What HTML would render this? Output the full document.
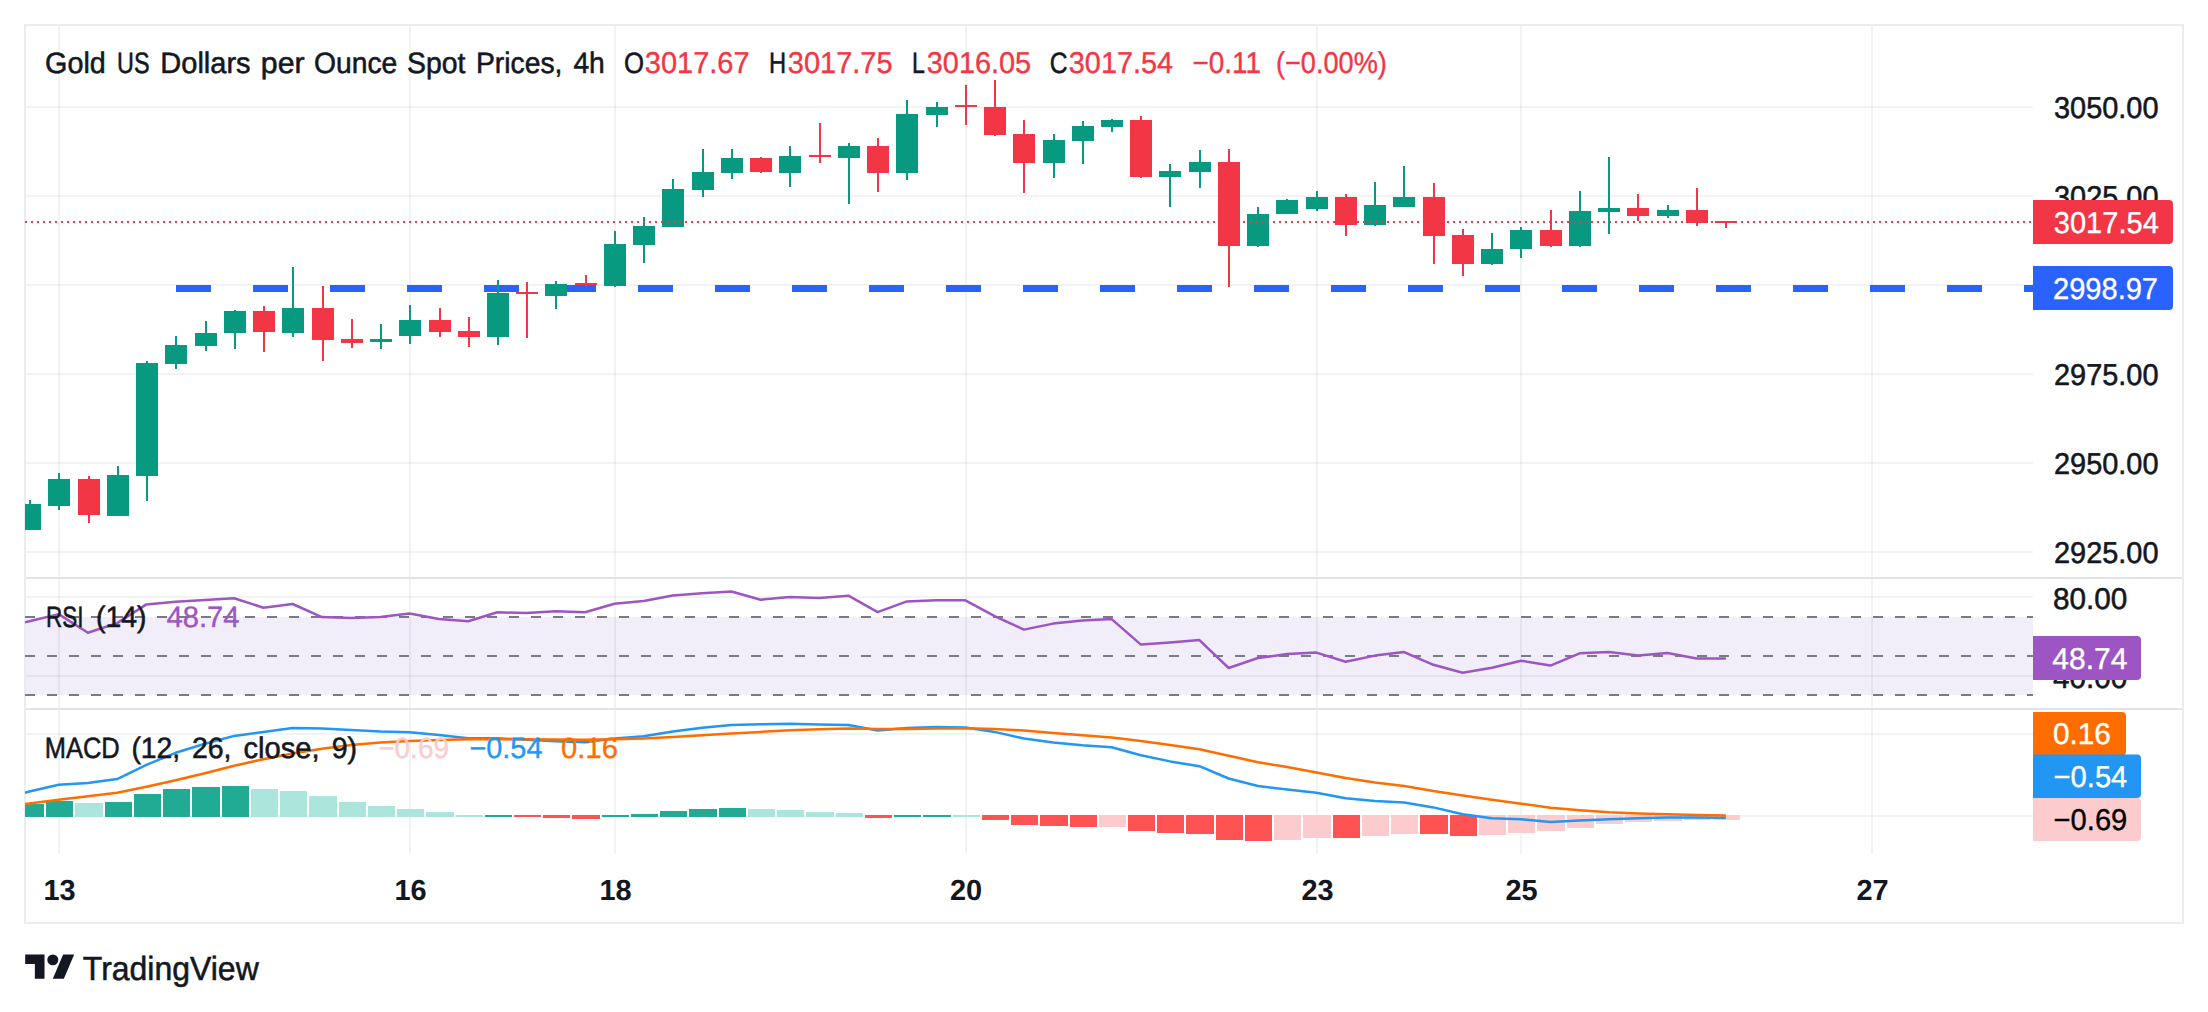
<!DOCTYPE html>
<html lang="en"><head><meta charset="utf-8"><title>Gold US Dollars per Ounce Spot Prices, 4h</title>
<style>html,body{margin:0;padding:0;background:#fff;}body{width:2208px;height:1012px;overflow:hidden;}svg{display:block;font-family:"Liberation Sans",Arial,sans-serif;}text{white-space:pre;}</style></head><body>
<svg width="2208" height="1012" viewBox="0 0 2208 1012" shape-rendering="crispEdges" text-rendering="geometricPrecision">
<rect width="2208" height="1012" fill="#fff"/>
<rect x="25" y="617" width="2008" height="78" fill="#f1eef9"/>
<g fill="rgba(42,46,57,0.06)">
<rect x="58" y="26" width="2" height="828"/>
<rect x="409" y="26" width="2" height="828"/>
<rect x="614" y="26" width="2" height="828"/>
<rect x="965" y="26" width="2" height="828"/>
<rect x="1316" y="26" width="2" height="828"/>
<rect x="1520" y="26" width="2" height="828"/>
<rect x="1871" y="26" width="2" height="828"/>
<rect x="26" y="106" width="2007" height="2"/>
<rect x="26" y="195" width="2007" height="2"/>
<rect x="26" y="284" width="2007" height="2"/>
<rect x="26" y="373" width="2007" height="2"/>
<rect x="26" y="462" width="2007" height="2"/>
<rect x="26" y="551" width="2007" height="2"/>
<rect x="26" y="596" width="2007" height="2"/>
<rect x="26" y="675" width="2007" height="2"/>
<rect x="26" y="733" width="2007" height="2"/>
<rect x="26" y="815" width="2007" height="2"/>
</g>
<rect x="26" y="577" width="2156" height="2" fill="#e0e3eb"/>
<rect x="26" y="708" width="2156" height="2" fill="#e0e3eb"/>
<rect x="25" y="25" width="2158" height="898" fill="none" stroke="#ebecf1" stroke-width="2"/>
<g fill="#2962ff">
<rect x="176" y="285" width="35" height="7"/>
<rect x="253" y="285" width="35" height="7"/>
<rect x="330" y="285" width="35" height="7"/>
<rect x="407" y="285" width="35" height="7"/>
<rect x="484" y="285" width="35" height="7"/>
<rect x="561" y="285" width="35" height="7"/>
<rect x="638" y="285" width="35" height="7"/>
<rect x="715" y="285" width="35" height="7"/>
<rect x="792" y="285" width="35" height="7"/>
<rect x="869" y="285" width="35" height="7"/>
<rect x="946" y="285" width="35" height="7"/>
<rect x="1023" y="285" width="35" height="7"/>
<rect x="1100" y="285" width="35" height="7"/>
<rect x="1177" y="285" width="35" height="7"/>
<rect x="1254" y="285" width="35" height="7"/>
<rect x="1331" y="285" width="35" height="7"/>
<rect x="1408" y="285" width="35" height="7"/>
<rect x="1485" y="285" width="35" height="7"/>
<rect x="1562" y="285" width="35" height="7"/>
<rect x="1639" y="285" width="35" height="7"/>
<rect x="1716" y="285" width="35" height="7"/>
<rect x="1793" y="285" width="35" height="7"/>
<rect x="1870" y="285" width="35" height="7"/>
<rect x="1947" y="285" width="35" height="7"/>
<rect x="2024" y="285" width="9" height="7"/>
</g>
<g>
<rect x="29" y="500" width="2" height="30" fill="#089981"/><rect x="25" y="504" width="16" height="26" fill="#089981"/>
<rect x="58" y="473" width="2" height="37" fill="#089981"/><rect x="48" y="479" width="22" height="27" fill="#089981"/>
<rect x="88" y="476" width="2" height="47" fill="#f23645"/><rect x="78" y="479" width="22" height="36" fill="#f23645"/>
<rect x="117" y="466" width="2" height="50" fill="#089981"/><rect x="107" y="475" width="22" height="41" fill="#089981"/>
<rect x="146" y="361" width="2" height="140" fill="#089981"/><rect x="136" y="363" width="22" height="113" fill="#089981"/>
<rect x="175" y="336" width="2" height="33" fill="#089981"/><rect x="165" y="345" width="22" height="19" fill="#089981"/>
<rect x="205" y="321" width="2" height="30" fill="#089981"/><rect x="195" y="333" width="22" height="13" fill="#089981"/>
<rect x="234" y="310" width="2" height="39" fill="#089981"/><rect x="224" y="311" width="22" height="22" fill="#089981"/>
<rect x="263" y="306" width="2" height="46" fill="#f23645"/><rect x="253" y="311" width="22" height="21" fill="#f23645"/>
<rect x="292" y="267" width="2" height="70" fill="#089981"/><rect x="282" y="308" width="22" height="25" fill="#089981"/>
<rect x="322" y="286" width="2" height="75" fill="#f23645"/><rect x="312" y="308" width="22" height="32" fill="#f23645"/>
<rect x="351" y="319" width="2" height="29" fill="#f23645"/><rect x="341" y="339" width="22" height="4" fill="#f23645"/>
<rect x="380" y="324" width="2" height="25" fill="#089981"/><rect x="370" y="339" width="22" height="3" fill="#089981"/>
<rect x="409" y="305" width="2" height="39" fill="#089981"/><rect x="399" y="320" width="22" height="16" fill="#089981"/>
<rect x="439" y="308" width="2" height="29" fill="#f23645"/><rect x="429" y="320" width="22" height="12" fill="#f23645"/>
<rect x="468" y="317" width="2" height="30" fill="#f23645"/><rect x="458" y="331" width="22" height="6" fill="#f23645"/>
<rect x="497" y="280" width="2" height="65" fill="#089981"/><rect x="487" y="293" width="22" height="44" fill="#089981"/>
<rect x="526" y="282" width="2" height="56" fill="#f23645"/><rect x="516" y="292" width="22" height="2" fill="#f23645"/>
<rect x="555" y="281" width="2" height="28" fill="#089981"/><rect x="545" y="284" width="22" height="12" fill="#089981"/>
<rect x="585" y="275" width="2" height="11" fill="#f23645"/><rect x="575" y="283" width="22" height="2" fill="#f23645"/>
<rect x="614" y="231" width="2" height="56" fill="#089981"/><rect x="604" y="244" width="22" height="42" fill="#089981"/>
<rect x="643" y="217" width="2" height="46" fill="#089981"/><rect x="633" y="226" width="22" height="19" fill="#089981"/>
<rect x="672" y="179" width="2" height="48" fill="#089981"/><rect x="662" y="189" width="22" height="38" fill="#089981"/>
<rect x="702" y="149" width="2" height="48" fill="#089981"/><rect x="692" y="172" width="22" height="18" fill="#089981"/>
<rect x="731" y="149" width="2" height="30" fill="#089981"/><rect x="721" y="158" width="22" height="15" fill="#089981"/>
<rect x="760" y="157" width="2" height="16" fill="#f23645"/><rect x="750" y="158" width="22" height="14" fill="#f23645"/>
<rect x="789" y="146" width="2" height="41" fill="#089981"/><rect x="779" y="156" width="22" height="17" fill="#089981"/>
<rect x="819" y="123" width="2" height="40" fill="#f23645"/><rect x="809" y="155" width="22" height="2" fill="#f23645"/>
<rect x="848" y="143" width="2" height="61" fill="#089981"/><rect x="838" y="146" width="22" height="12" fill="#089981"/>
<rect x="877" y="138" width="2" height="54" fill="#f23645"/><rect x="867" y="146" width="22" height="27" fill="#f23645"/>
<rect x="906" y="100" width="2" height="80" fill="#089981"/><rect x="896" y="114" width="22" height="59" fill="#089981"/>
<rect x="936" y="102" width="2" height="25" fill="#089981"/><rect x="926" y="107" width="22" height="8" fill="#089981"/>
<rect x="965" y="85" width="2" height="40" fill="#f23645"/><rect x="955" y="105" width="22" height="2" fill="#f23645"/>
<rect x="994" y="80" width="2" height="56" fill="#f23645"/><rect x="984" y="107" width="22" height="28" fill="#f23645"/>
<rect x="1023" y="120" width="2" height="73" fill="#f23645"/><rect x="1013" y="134" width="22" height="29" fill="#f23645"/>
<rect x="1053" y="134" width="2" height="44" fill="#089981"/><rect x="1043" y="140" width="22" height="23" fill="#089981"/>
<rect x="1082" y="121" width="2" height="43" fill="#089981"/><rect x="1072" y="126" width="22" height="15" fill="#089981"/>
<rect x="1111" y="119" width="2" height="13" fill="#089981"/><rect x="1101" y="120" width="22" height="7" fill="#089981"/>
<rect x="1140" y="116" width="2" height="62" fill="#f23645"/><rect x="1130" y="120" width="22" height="57" fill="#f23645"/>
<rect x="1169" y="164" width="2" height="43" fill="#089981"/><rect x="1159" y="171" width="22" height="6" fill="#089981"/>
<rect x="1199" y="150" width="2" height="38" fill="#089981"/><rect x="1189" y="162" width="22" height="10" fill="#089981"/>
<rect x="1228" y="149" width="2" height="138" fill="#f23645"/><rect x="1218" y="162" width="22" height="84" fill="#f23645"/>
<rect x="1257" y="207" width="2" height="40" fill="#089981"/><rect x="1247" y="214" width="22" height="32" fill="#089981"/>
<rect x="1286" y="199" width="2" height="15" fill="#089981"/><rect x="1276" y="200" width="22" height="14" fill="#089981"/>
<rect x="1316" y="191" width="2" height="20" fill="#089981"/><rect x="1306" y="197" width="22" height="12" fill="#089981"/>
<rect x="1345" y="194" width="2" height="42" fill="#f23645"/><rect x="1335" y="197" width="22" height="28" fill="#f23645"/>
<rect x="1374" y="182" width="2" height="44" fill="#089981"/><rect x="1364" y="205" width="22" height="20" fill="#089981"/>
<rect x="1403" y="166" width="2" height="41" fill="#089981"/><rect x="1393" y="197" width="22" height="10" fill="#089981"/>
<rect x="1433" y="183" width="2" height="81" fill="#f23645"/><rect x="1423" y="197" width="22" height="39" fill="#f23645"/>
<rect x="1462" y="229" width="2" height="47" fill="#f23645"/><rect x="1452" y="235" width="22" height="29" fill="#f23645"/>
<rect x="1491" y="233" width="2" height="32" fill="#089981"/><rect x="1481" y="249" width="22" height="15" fill="#089981"/>
<rect x="1520" y="227" width="2" height="31" fill="#089981"/><rect x="1510" y="230" width="22" height="19" fill="#089981"/>
<rect x="1550" y="210" width="2" height="37" fill="#f23645"/><rect x="1540" y="230" width="22" height="16" fill="#f23645"/>
<rect x="1579" y="191" width="2" height="56" fill="#089981"/><rect x="1569" y="211" width="22" height="35" fill="#089981"/>
<rect x="1608" y="157" width="2" height="77" fill="#089981"/><rect x="1598" y="208" width="22" height="4" fill="#089981"/>
<rect x="1637" y="194" width="2" height="27" fill="#f23645"/><rect x="1627" y="208" width="22" height="8" fill="#f23645"/>
<rect x="1667" y="205" width="2" height="13" fill="#089981"/><rect x="1657" y="210" width="22" height="6" fill="#089981"/>
<rect x="1696" y="188" width="2" height="38" fill="#f23645"/><rect x="1686" y="210" width="22" height="13" fill="#f23645"/>
<rect x="1725" y="221" width="2" height="7" fill="#f23645"/><rect x="1715" y="221" width="22" height="2" fill="#f23645"/>
</g>
<line x1="25" y1="222" x2="2033" y2="222" stroke="#f23645" stroke-width="2" stroke-dasharray="2 4"/>
<line x1="25" y1="617" x2="2033" y2="617" stroke="#787b86" stroke-width="2" stroke-dasharray="10 12"/>
<line x1="25" y1="656" x2="2033" y2="656" stroke="#787b86" stroke-width="2" stroke-dasharray="10 12"/>
<line x1="25" y1="695" x2="2033" y2="695" stroke="#787b86" stroke-width="2" stroke-dasharray="10 12"/>
<polyline shape-rendering="geometricPrecision" fill="none" stroke="#9c55c3" stroke-width="2.5" stroke-linejoin="round" points="25,622.4 29.4,621.2 58.65,614.1 87.9,632.8 117.15,623.1 146.4,604.4 175.65,601.7 204.9,600 234.15,598.2 263.4,607.7 292.65,604 321.9,617.1 351.15,617.9 380.4,617.1 409.65,613.4 438.9,619.1 468.15,621.3 497.4,612.3 526.65,613.1 555.9,611.2 585.15,612.2 614.4,603.7 643.65,601 672.9,595.4 702.15,593.2 731.4,591.5 760.65,599.7 789.9,596.9 819.15,597.9 848.4,595.7 877.65,612.1 906.9,601.4 936.15,600.2 965.4,600.3 994.65,616.2 1023.9,629.6 1053.15,623.6 1082.4,620.6 1111.65,619.1 1140.9,644.6 1170.15,642.6 1199.4,640.1 1228.65,668 1257.9,658 1287.15,654.1 1316.4,652.6 1345.65,661.8 1374.9,655.6 1404.15,652.1 1433.4,664.8 1462.65,672.8 1491.9,667.8 1521.15,660.7 1550.4,665.6 1579.65,653.3 1608.9,652.1 1638.15,655.6 1667.4,652.9 1696.65,658.4 1725.9,658.6"/>
<g>
<rect x="25" y="804.2" width="19" height="12.8" fill="#22ab94"/>
<rect x="46" y="801.3" width="27" height="15.7" fill="#22ab94"/>
<rect x="75" y="803.0" width="28" height="14.0" fill="#ace5dc"/>
<rect x="105" y="802.0" width="27" height="15.0" fill="#22ab94"/>
<rect x="134" y="794.1" width="27" height="22.9" fill="#22ab94"/>
<rect x="163" y="789.1" width="27" height="27.9" fill="#22ab94"/>
<rect x="192" y="786.9" width="28" height="30.1" fill="#22ab94"/>
<rect x="222" y="785.9" width="27" height="31.1" fill="#22ab94"/>
<rect x="251" y="789.1" width="27" height="27.9" fill="#ace5dc"/>
<rect x="280" y="791.1" width="27" height="25.9" fill="#ace5dc"/>
<rect x="309" y="796.1" width="28" height="20.9" fill="#ace5dc"/>
<rect x="339" y="802.0" width="27" height="15.0" fill="#ace5dc"/>
<rect x="368" y="806.0" width="27" height="11.0" fill="#ace5dc"/>
<rect x="397" y="809.0" width="27" height="8.0" fill="#ace5dc"/>
<rect x="426" y="812.2" width="28" height="4.8" fill="#ace5dc"/>
<rect x="456" y="814.6" width="27" height="2.4" fill="#ace5dc"/>
<rect x="485" y="815.0" width="27" height="2.0" fill="#22ab94"/>
<rect x="514" y="815.0" width="27" height="2.0" fill="#ff5252"/>
<rect x="543" y="815.0" width="27" height="2.6" fill="#ff5252"/>
<rect x="572" y="815.0" width="28" height="3.8" fill="#ff5252"/>
<rect x="602" y="815.0" width="27" height="2.0" fill="#22ab94"/>
<rect x="631" y="814.0" width="27" height="3.0" fill="#22ab94"/>
<rect x="660" y="811.0" width="27" height="6.0" fill="#22ab94"/>
<rect x="689" y="809.0" width="28" height="8.0" fill="#22ab94"/>
<rect x="719" y="808.0" width="27" height="9.0" fill="#22ab94"/>
<rect x="748" y="809.0" width="27" height="8.0" fill="#ace5dc"/>
<rect x="777" y="810.0" width="27" height="7.0" fill="#ace5dc"/>
<rect x="806" y="812.2" width="28" height="4.8" fill="#ace5dc"/>
<rect x="836" y="813.2" width="27" height="3.8" fill="#ace5dc"/>
<rect x="865" y="815.0" width="27" height="2.8" fill="#ff5252"/>
<rect x="894" y="815.0" width="27" height="2.0" fill="#22ab94"/>
<rect x="923" y="815.0" width="28" height="2.0" fill="#22ab94"/>
<rect x="953" y="815.0" width="27" height="2.0" fill="#ace5dc"/>
<rect x="982" y="815.0" width="27" height="5.0" fill="#ff5252"/>
<rect x="1011" y="815.0" width="27" height="10.0" fill="#ff5252"/>
<rect x="1040" y="815.0" width="28" height="11.0" fill="#ff5252"/>
<rect x="1070" y="815.0" width="27" height="12.0" fill="#ff5252"/>
<rect x="1099" y="815.0" width="27" height="11.8" fill="#fccbcd"/>
<rect x="1128" y="815.0" width="27" height="16.0" fill="#ff5252"/>
<rect x="1157" y="815.0" width="27" height="18.0" fill="#ff5252"/>
<rect x="1186" y="815.0" width="28" height="19.0" fill="#ff5252"/>
<rect x="1216" y="815.0" width="27" height="25.1" fill="#ff5252"/>
<rect x="1245" y="815.0" width="27" height="26.1" fill="#ff5252"/>
<rect x="1274" y="815.0" width="27" height="24.8" fill="#fccbcd"/>
<rect x="1303" y="815.0" width="28" height="22.6" fill="#fccbcd"/>
<rect x="1333" y="815.0" width="27" height="23.0" fill="#ff5252"/>
<rect x="1362" y="815.0" width="27" height="20.7" fill="#fccbcd"/>
<rect x="1391" y="815.0" width="27" height="18.7" fill="#fccbcd"/>
<rect x="1420" y="815.0" width="28" height="19.0" fill="#ff5252"/>
<rect x="1450" y="815.0" width="27" height="20.7" fill="#ff5252"/>
<rect x="1479" y="815.0" width="27" height="19.8" fill="#fccbcd"/>
<rect x="1508" y="815.0" width="27" height="17.8" fill="#fccbcd"/>
<rect x="1537" y="815.0" width="28" height="15.9" fill="#fccbcd"/>
<rect x="1567" y="815.0" width="27" height="12.8" fill="#fccbcd"/>
<rect x="1596" y="815.0" width="27" height="8.7" fill="#fccbcd"/>
<rect x="1625" y="815.0" width="27" height="6.7" fill="#fccbcd"/>
<rect x="1654" y="815.0" width="28" height="5.7" fill="#fccbcd"/>
<rect x="1684" y="815.0" width="27" height="4.8" fill="#fccbcd"/>
<rect x="1713" y="815.0" width="27" height="4.8" fill="#fccbcd"/>
</g>
<polyline shape-rendering="geometricPrecision" fill="none" stroke="#2196f3" stroke-width="2.5" stroke-linejoin="round" points="25,792.7 29.4,791.5 58.65,784.7 87.9,783.1 117.15,779.1 146.4,764.8 175.65,752.8 204.9,743.7 234.15,735.9 263.4,731.9 292.65,727.9 321.9,728.5 351.15,729.9 380.4,731.5 409.65,732.3 438.9,734.9 468.15,738.3 497.4,738.3 526.65,739.8 555.9,741.3 585.15,742.3 614.4,738.5 643.65,736.2 672.9,731.4 702.15,727.8 731.4,724.9 760.65,724.3 789.9,723.8 819.15,724.6 848.4,725 877.65,730.4 906.9,727.9 936.15,726.9 965.4,727.5 994.65,731.9 1023.9,738.5 1053.15,742.5 1082.4,745.3 1111.65,747.2 1140.9,755.2 1170.15,761.4 1199.4,766.2 1228.65,778.5 1257.9,786 1287.15,789.5 1316.4,792.8 1345.65,798.3 1374.9,800.9 1404.15,802.6 1433.4,807.4 1462.65,814.3 1491.9,818.3 1521.15,819.3 1550.4,822 1579.65,820.4 1608.9,819.3 1638.15,818.3 1667.4,817.6 1696.65,817.6 1725.9,817.8"/>
<polyline shape-rendering="geometricPrecision" fill="none" stroke="#ff6d00" stroke-width="2.5" stroke-linejoin="round" points="25,804 29.4,803.4 58.65,799.7 87.9,796.3 117.15,792.7 146.4,786.7 175.65,780.3 204.9,773.2 234.15,765.8 263.4,759.2 292.65,753.4 321.9,748.8 351.15,744.9 380.4,742.5 409.65,740.9 438.9,739.9 468.15,739.3 497.4,739.3 526.65,739.3 555.9,739.5 585.15,739.7 614.4,739.3 643.65,738.5 672.9,736.9 702.15,735.3 731.4,733.5 760.65,731.9 789.9,730.3 819.15,729.3 848.4,728.5 877.65,728.9 906.9,728.9 936.15,728.5 965.4,728.3 994.65,728.9 1023.9,730.5 1053.15,732.9 1082.4,735.3 1111.65,737.5 1140.9,740.9 1170.15,744.9 1199.4,749.2 1228.65,755.8 1257.9,762.2 1287.15,767.0 1316.4,772.6 1345.65,778 1374.9,782.4 1404.15,786.1 1433.4,791.1 1462.65,795.4 1491.9,799.8 1521.15,803.7 1550.4,807.8 1579.65,810.2 1608.9,812.2 1638.15,813.5 1667.4,814.3 1696.65,815 1725.9,815.4"/>
<g>
<text x="45.10" y="72.60" font-size="29.5" fill="#131722" stroke="#131722" stroke-width="0.55" textLength="60.71" lengthAdjust="spacingAndGlyphs">Gold</text>
<text x="117.00" y="72.60" font-size="29.5" fill="#131722" stroke="#131722" stroke-width="0.55" textLength="32.49" lengthAdjust="spacingAndGlyphs">US</text>
<text x="160.30" y="72.60" font-size="29.5" fill="#131722" stroke="#131722" stroke-width="0.55" textLength="90.30" lengthAdjust="spacingAndGlyphs">Dollars</text>
<text x="260.80" y="72.60" font-size="29.5" fill="#131722" stroke="#131722" stroke-width="0.55" textLength="43.74" lengthAdjust="spacingAndGlyphs">per</text>
<text x="314.00" y="72.60" font-size="29.5" fill="#131722" stroke="#131722" stroke-width="0.55" textLength="83.31" lengthAdjust="spacingAndGlyphs">Ounce</text>
<text x="407.00" y="72.60" font-size="29.5" fill="#131722" stroke="#131722" stroke-width="0.55" textLength="58.38" lengthAdjust="spacingAndGlyphs">Spot</text>
<text x="476.00" y="72.60" font-size="29.5" fill="#131722" stroke="#131722" stroke-width="0.55" textLength="86.46" lengthAdjust="spacingAndGlyphs">Prices,</text>
<text x="573.40" y="72.60" font-size="29.5" fill="#131722" stroke="#131722" stroke-width="0.55" textLength="31.41" lengthAdjust="spacingAndGlyphs">4h</text>
<text x="624.10" y="72.60" font-size="29.5" fill="#131722" stroke="#131722" stroke-width="0.55" textLength="20.04" lengthAdjust="spacingAndGlyphs">O</text>
<text x="644.80" y="72.60" font-size="30" fill="#f23645" stroke="#f23645" stroke-width="0.35" textLength="104.74" lengthAdjust="spacingAndGlyphs">3017.67</text>
<text x="769.00" y="72.60" font-size="29.5" fill="#131722" stroke="#131722" stroke-width="0.55" textLength="17.10" lengthAdjust="spacingAndGlyphs">H</text>
<text x="787.80" y="72.60" font-size="30" fill="#f23645" stroke="#f23645" stroke-width="0.35" textLength="104.74" lengthAdjust="spacingAndGlyphs">3017.75</text>
<text x="912.10" y="72.60" font-size="29.5" fill="#131722" stroke="#131722" stroke-width="0.55" textLength="12.90" lengthAdjust="spacingAndGlyphs">L</text>
<text x="926.80" y="72.60" font-size="30" fill="#f23645" stroke="#f23645" stroke-width="0.35" textLength="104.34" lengthAdjust="spacingAndGlyphs">3016.05</text>
<text x="1049.70" y="72.60" font-size="29.5" fill="#131722" stroke="#131722" stroke-width="0.55" textLength="17.80" lengthAdjust="spacingAndGlyphs">C</text>
<text x="1068.80" y="72.60" font-size="30" fill="#f23645" stroke="#f23645" stroke-width="0.35" textLength="104.34" lengthAdjust="spacingAndGlyphs">3017.54</text>
<text x="1192.50" y="72.60" font-size="30" fill="#f23645" stroke="#f23645" stroke-width="0.35" textLength="68.48" lengthAdjust="spacingAndGlyphs">−0.11</text>
<text x="1275.90" y="72.60" font-size="30" fill="#f23645" stroke="#f23645" stroke-width="0.35" textLength="110.97" lengthAdjust="spacingAndGlyphs">(−0.00%)</text>
<text x="46.00" y="627.00" font-size="29.5" fill="#131722" stroke="#131722" stroke-width="0.55" textLength="37.48" lengthAdjust="spacingAndGlyphs">RSI</text>
<text x="96.10" y="627.00" font-size="29.5" fill="#131722" stroke="#131722" stroke-width="0.55" textLength="50.36" lengthAdjust="spacingAndGlyphs">(14)</text>
<text x="166.50" y="627.00" font-size="29.5" fill="#9c55c3" stroke="#9c55c3" stroke-width="0.35" textLength="73.02" lengthAdjust="spacingAndGlyphs">48.74</text>
<text x="44.70" y="757.70" font-size="29.5" fill="#131722" stroke="#131722" stroke-width="0.55" textLength="74.96" lengthAdjust="spacingAndGlyphs">MACD</text>
<text x="131.40" y="757.70" font-size="29.5" fill="#131722" stroke="#131722" stroke-width="0.55" textLength="48.83" lengthAdjust="spacingAndGlyphs">(12,</text>
<text x="191.90" y="757.70" font-size="29.5" fill="#131722" stroke="#131722" stroke-width="0.55" textLength="39.61" lengthAdjust="spacingAndGlyphs">26,</text>
<text x="243.50" y="757.70" font-size="29.5" fill="#131722" stroke="#131722" stroke-width="0.55" textLength="76.16" lengthAdjust="spacingAndGlyphs">close,</text>
<text x="331.70" y="757.70" font-size="29.5" fill="#131722" stroke="#131722" stroke-width="0.55" textLength="25.33" lengthAdjust="spacingAndGlyphs">9)</text>
<text x="378.20" y="757.80" font-size="29.5" fill="#fccbcd" stroke="#fccbcd" stroke-width="0.35" textLength="70.84" lengthAdjust="spacingAndGlyphs">−0.69</text>
<text x="469.40" y="757.80" font-size="29.5" fill="#2196f3" stroke="#2196f3" stroke-width="0.35" textLength="73.14" lengthAdjust="spacingAndGlyphs">−0.54</text>
<text x="561.10" y="757.80" font-size="29.5" fill="#ff6d00" stroke="#ff6d00" stroke-width="0.35" textLength="56.81" lengthAdjust="spacingAndGlyphs">0.16</text>
</g>
<g>
<text x="2054.00" y="117.60" font-size="30" fill="#131722" stroke="#131722" stroke-width="0.55" textLength="104.54" lengthAdjust="spacingAndGlyphs">3050.00</text>
<text x="2054.00" y="206.60" font-size="30" fill="#131722" stroke="#131722" stroke-width="0.55" textLength="104.54" lengthAdjust="spacingAndGlyphs">3025.00</text>
<text x="2054.00" y="384.60" font-size="30" fill="#131722" stroke="#131722" stroke-width="0.55" textLength="104.54" lengthAdjust="spacingAndGlyphs">2975.00</text>
<text x="2054.00" y="473.60" font-size="30" fill="#131722" stroke="#131722" stroke-width="0.55" textLength="104.54" lengthAdjust="spacingAndGlyphs">2950.00</text>
<text x="2054.00" y="562.60" font-size="30" fill="#131722" stroke="#131722" stroke-width="0.55" textLength="104.54" lengthAdjust="spacingAndGlyphs">2925.00</text>
<text x="2053.00" y="608.60" font-size="30" fill="#131722" stroke="#131722" stroke-width="0.55" textLength="74.27" lengthAdjust="spacingAndGlyphs">80.00</text>
<text x="2053.00" y="687.60" font-size="30" fill="#131722" stroke="#131722" stroke-width="0.55" textLength="74.27" lengthAdjust="spacingAndGlyphs">40.00</text>
</g>
<path shape-rendering="geometricPrecision" d="M2033 200H2169Q2173 200 2173 204V240Q2173 244 2169 244H2033Z" fill="#f23645"/>
<text x="2053.80" y="232.60" font-size="30" fill="#fff" stroke="#fff" stroke-width="0.35" textLength="105.04" lengthAdjust="spacingAndGlyphs">3017.54</text>
<path shape-rendering="geometricPrecision" d="M2033 266H2169Q2173 266 2173 270V306Q2173 310 2169 310H2033Z" fill="#2962ff"/>
<text x="2053.00" y="298.60" font-size="30" fill="#fff" stroke="#fff" stroke-width="0.35" textLength="105.04" lengthAdjust="spacingAndGlyphs">2998.97</text>
<path shape-rendering="geometricPrecision" d="M2033 636H2137Q2141 636 2141 640V676Q2141 680 2137 680H2033Z" fill="#9c55c3"/>
<text x="2052.30" y="668.60" font-size="30" fill="#fff" stroke="#fff" stroke-width="0.35" textLength="75.07" lengthAdjust="spacingAndGlyphs">48.74</text>
<path shape-rendering="geometricPrecision" d="M2033 712H2122Q2126 712 2126 716V751.5Q2126 755.5 2122 755.5H2033Z" fill="#ff6d00"/>
<text x="2053.00" y="744.35" font-size="30" fill="#fff" stroke="#fff" stroke-width="0.35" textLength="57.89" lengthAdjust="spacingAndGlyphs">0.16</text>
<path shape-rendering="geometricPrecision" d="M2033 754.5H2137Q2141 754.5 2141 758.5V794Q2141 798 2137 798H2033Z" fill="#2196f3"/>
<text x="2053.60" y="786.85" font-size="30" fill="#fff" stroke="#fff" stroke-width="0.35" textLength="73.71" lengthAdjust="spacingAndGlyphs">−0.54</text>
<path shape-rendering="geometricPrecision" d="M2033 798H2137Q2141 798 2141 802V837Q2141 841 2137 841H2033Z" fill="#fccbcd"/>
<text x="2053.60" y="830.10" font-size="30" fill="#000" stroke="#000" stroke-width="0.35" textLength="73.71" lengthAdjust="spacingAndGlyphs">−0.69</text>
<g>
<text x="43.40" y="900.00" font-size="29" fill="#131722" font-weight="bold" textLength="32.16" lengthAdjust="spacingAndGlyphs">13</text>
<text x="394.40" y="900.00" font-size="29" fill="#131722" font-weight="bold" textLength="32.16" lengthAdjust="spacingAndGlyphs">16</text>
<text x="599.40" y="900.00" font-size="29" fill="#131722" font-weight="bold" textLength="32.16" lengthAdjust="spacingAndGlyphs">18</text>
<text x="949.90" y="900.00" font-size="29" fill="#131722" font-weight="bold" textLength="32.16" lengthAdjust="spacingAndGlyphs">20</text>
<text x="1301.40" y="900.00" font-size="29" fill="#131722" font-weight="bold" textLength="32.16" lengthAdjust="spacingAndGlyphs">23</text>
<text x="1505.40" y="900.00" font-size="29" fill="#131722" font-weight="bold" textLength="32.16" lengthAdjust="spacingAndGlyphs">25</text>
<text x="1856.40" y="900.00" font-size="29" fill="#131722" font-weight="bold" textLength="32.16" lengthAdjust="spacingAndGlyphs">27</text>
</g>
<g shape-rendering="geometricPrecision" fill="#131722" transform="translate(25.2 949) scale(1.38 1.356)"><path d="M14 22H7V11H0V4h14v18zM28 22h-8l7.5-18h8L28 22z"/><circle cx="20" cy="8" r="4"/></g>
<text x="82.80" y="979.60" font-size="33.5" fill="#131722" stroke="#131722" stroke-width="0.55" textLength="175.95" lengthAdjust="spacingAndGlyphs">TradingView</text>
</svg></body></html>
